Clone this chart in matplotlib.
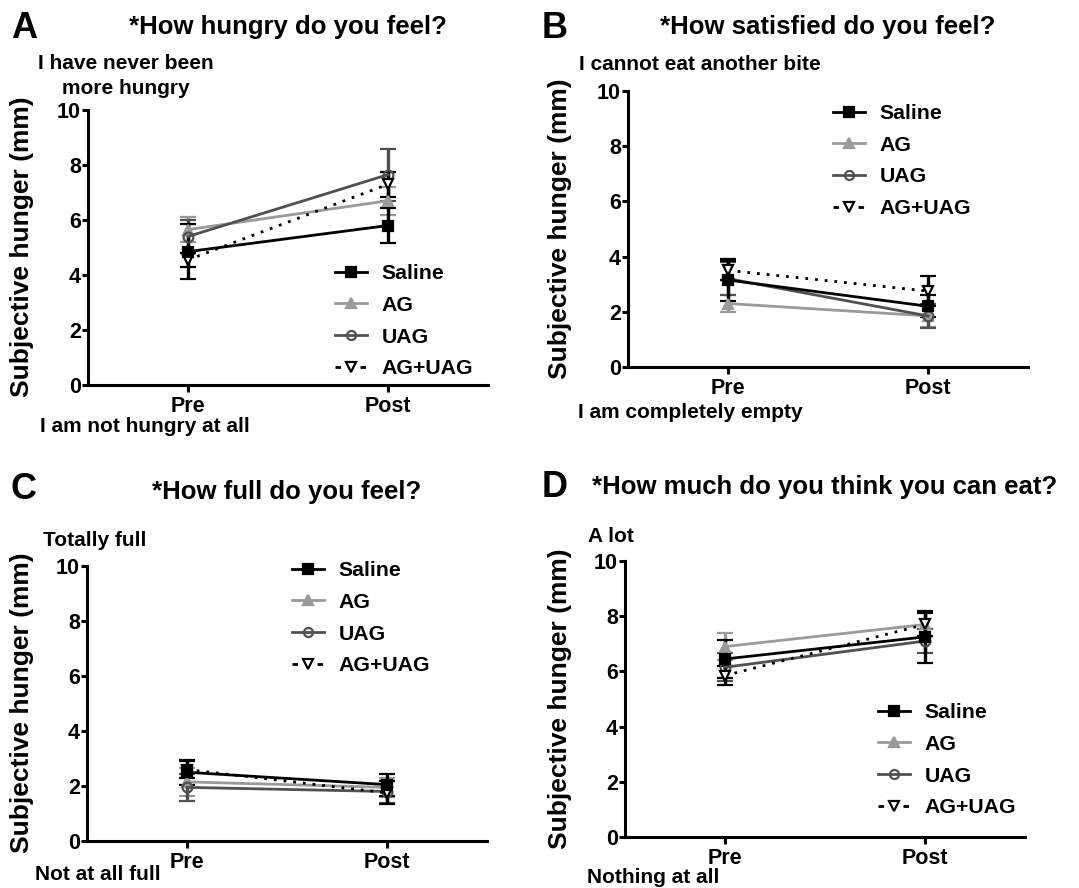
import matplotlib
matplotlib.use('Agg')
import matplotlib.pyplot as plt

plt.rcParams['font.family'] = ['Liberation Sans', 'DejaVu Sans']
plt.rcParams['font.weight'] = 'bold'

groups = ['Saline', 'AG', 'UAG', 'AG+UAG']
times = ['Pre', 'Post']

# mean (pre, post) and SEM (pre, post) for each panel
hungry_mean = {'Saline': [4.85, 5.8], 'AG': [5.65, 6.7], 'UAG': [5.4, 7.65], 'AG+UAG': [4.55, 7.3]}
hungry_sem = {'Saline': [1.0, 0.63], 'AG': [0.45, 0.5], 'UAG': [0.6, 0.95], 'AG+UAG': [0.25, 0.45]}

satisfied_mean = {'Saline': [3.15, 2.2], 'AG': [2.3, 1.85], 'UAG': [3.2, 1.85], 'AG+UAG': [3.5, 2.75]}
satisfied_sem = {'Saline': [0.75, 0.4], 'AG': [0.32, 0.4], 'UAG': [0.6, 0.42], 'AG+UAG': [0.35, 0.55]}

full_mean = {'Saline': [2.5, 2.05], 'AG': [2.15, 1.95], 'UAG': [1.95, 1.8], 'AG+UAG': [2.6, 1.75]}
full_sem = {'Saline': [0.45, 0.4], 'AG': [0.5, 0.35], 'UAG': [0.5, 0.4], 'AG+UAG': [0.3, 0.42]}

eat_mean = {'Saline': [6.45, 7.25], 'AG': [6.9, 7.7], 'UAG': [6.15, 7.1], 'AG+UAG': [5.85, 7.7]}
eat_sem = {'Saline': [0.7, 0.95], 'AG': [0.5, 0.45], 'UAG': [0.5, 0.45], 'AG+UAG': [0.35, 0.4]}

styles = {
    'Saline': dict(color='black', marker='s', mfc='black', ls='-'),
    'AG': dict(color='#9a9a9a', marker='^', mfc='#9a9a9a', ls='-'),
    'UAG': dict(color='#505050', marker='o', mfc='none', ls='-'),
    'AG+UAG': dict(color='black', marker='v', mfc='white', ls=(0, (1, 2.5))),
}

W, H = 1079, 888
fig = plt.figure(figsize=(W / 100, H / 100), dpi=100)


def rect(l, r, t, b):
    return [l / W, 1 - b / H, (r - l) / W, (b - t) / H]


panels = [
    dict(rect=rect(88, 488, 110, 385), mean=hungry_mean, sem=hungry_sem, letter='A', lpos=(11, 28),
         title='*How hungry do you feel?', tpos=(288, 27), ylab=(22, 247),
         top='I have never been\nmore hungry', toppos=(126, 76), tha='center',
         bot='I am not hungry at all', botpos=(40, 426), leg=(335, 264)),
    dict(rect=rect(628, 1028, 91, 367), mean=satisfied_mean, sem=satisfied_sem, letter='B', lpos=(542, 28),
         title='*How satisfied do you feel?', tpos=(828, 27), ylab=(560, 229),
         top='I cannot eat another bite', toppos=(579, 65), tha='left',
         bot='I am completely empty', botpos=(578, 413), leg=(833, 104)),
    dict(rect=rect(87, 487, 566, 841), mean=full_mean, sem=full_sem, letter='C', lpos=(11, 489),
         title='*How full do you feel?', tpos=(287, 492), ylab=(22, 703),
         top='Totally full', toppos=(43, 540), tha='left',
         bot='Not at all full', botpos=(35, 874), leg=(292, 561)),
    dict(rect=rect(625, 1025, 561, 837), mean=eat_mean, sem=eat_sem, letter='D', lpos=(542, 487),
         title='*How much do you think you can eat?', tpos=(825, 487), ylab=(560, 699),
         top='A lot', toppos=(588, 537), tha='left',
         bot='Nothing at all', botpos=(587, 877), leg=(878, 703)),
]

x = list(range(len(times)))

for p in panels:
    ax = fig.add_axes(p['rect'])
    handles = []
    for g in ['AG', 'UAG', 'AG+UAG', 'Saline']:
        st = styles[g]
        ax.errorbar(x, p['mean'][g], yerr=p['sem'][g], color=st['color'], ls=st['ls'],
                    marker=st['marker'], mfc=st['mfc'], mec=st['color'], mew=1.6,
                    ms=7, lw=2, elinewidth=2.4, capsize=5.5, capthick=2.4, zorder=3)
    for g in groups:
        st = styles[g]
        h, = ax.plot([], [], color=st['color'], ls=st['ls'] if g != 'AG+UAG' else (0, (2, 2.5)),
                     marker=st['marker'], mfc=st['mfc'],
                     mec=st['color'], mew=1.6, ms=6.5, lw=2, label=g)
        handles.append(h)
    ax.set_xlim(-0.5, 1.5)
    ax.set_ylim(0, 10)
    ax.set_yticks([0, 2, 4, 6, 8, 10])
    ax.set_xticks(x)
    ax.set_xticklabels(times)
    for s in ['top', 'right']:
        ax.spines[s].set_visible(False)
    for s in ['left', 'bottom']:
        ax.spines[s].set_linewidth(2.2)
    ax.tick_params(width=2.2, length=4, labelsize=15.5, pad=1)
    ax.tick_params(axis='x', length=5, pad=3)
    for lab in ax.get_xticklabels() + ax.get_yticklabels():
        lab.set_fontweight('bold')
    ax.legend(handles=handles, loc='upper left', bbox_to_anchor=(p['leg'][0] / W, 1 - p['leg'][1] / H),
              bbox_transform=fig.transFigure, frameon=False, fontsize=15.3, borderpad=0,
              borderaxespad=0, handlelength=1.5, handletextpad=0.7, labelspacing=0.6)

    fig.text(p['lpos'][0] / W, 1 - p['lpos'][1] / H, p['letter'], fontsize=26, fontweight='bold',
             ha='left', va='center')
    fig.text(p['tpos'][0] / W, 1 - p['tpos'][1] / H, p['title'], fontsize=18.5, fontweight='bold',
             ha='center', va='center')
    fig.text(p['ylab'][0] / W, 1 - p['ylab'][1] / H, 'Subjective hunger (mm)', fontsize=19,
             fontweight='bold', rotation=90, ha='center', va='center')
    fig.text(p['toppos'][0] / W, 1 - p['toppos'][1] / H, p['top'], fontsize=15, fontweight='bold',
             ha=p['tha'], va='center', multialignment='center', linespacing=1.4)
    fig.text(p['botpos'][0] / W, 1 - p['botpos'][1] / H, p['bot'], fontsize=15, fontweight='bold',
             ha='left', va='center')

fig.savefig('out.png', dpi=100)
